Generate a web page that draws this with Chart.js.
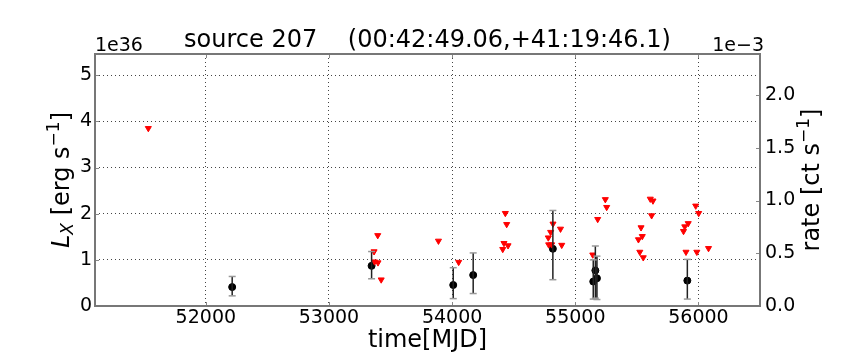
<!DOCTYPE html>
<html>
<head>
<meta charset="utf-8">
<script src="https://cdn.jsdelivr.net/npm/chart.js@4.4.1/dist/chart.umd.min.js"></script>
<style>
  html, body { margin: 0; padding: 0; background: #fff; }
  #wrap { width: 864px; height: 360px; }
</style>
</head>
<body>
<div id="wrap"><canvas id="lc" width="864" height="360"></canvas></div>
<script>
// detections: MJD, L_X (1e36 erg/s) and error bar ends
const detMjd = [52214, 53346, 54009, 54171, 54818, 55146, 55163, 55176, 55910];
const detLum = [0.41, 0.87, 0.455, 0.67, 1.24, 0.53, 0.77, 0.60, 0.55];
const detLo  = [0.22, 0.59, 0.16, 0.27, 0.57, 0.15, 0.17, 0.14, 0.15];
const detHi  = [0.64, 1.18, 0.83, 1.15, 2.07, 1.00, 1.30, 1.08, 1.01];

// upper limits (red triangles)
const ulMjd = [51533, 53396, 53366, 53370, 53398, 53424, 53889, 54053,
               54432, 54443, 54421, 54411, 54454,
               54819, 54800, 54781, 54784, 54808, 54880, 54890,
               55142, 55182, 55244, 55255,
               55513, 55534, 55544, 55524, 55552, 55609, 55631, 55620,
               55879, 55889, 55917, 55899, 55978, 56002, 55987, 56082];
const ulLum = [3.85, 1.53, 1.18, 0.96, 0.94, 0.57, 1.41, 0.95,
               2.01, 1.77, 1.36, 1.23, 1.31,
               1.78, 1.60, 1.48, 1.33, 1.33, 1.67, 1.32,
               1.11, 1.88, 2.31, 2.14,
               1.44, 1.70, 1.51, 1.17, 1.05, 2.32, 2.28, 1.96,
               1.62, 1.72, 1.79, 1.17, 2.17, 2.01, 1.17, 1.25];

// axis ticks
const mjdTicks = [52000, 53000, 54000, 55000, 56000];
const lumTicks = [0, 1, 2, 3, 4, 5];
const rateTicks = [0, 0.5, 1.0, 1.5, 2.0];

const FONT = 'DejaVu Sans';

// error bars as line segments separated by gaps
const errData = [];
detMjd.forEach((m, i) => {
    errData.push({ x: m, y: detLo[i] });
    errData.push({ x: m, y: detHi[i] });
    errData.push({ x: m, y: null });
});

// draws a list of text runs (for sub/superscripts) centred at cx,cy
function drawRuns(ctx, runs, cx, cy, angle) {
    let total = 0;
    runs.forEach(r => { ctx.font = r.font; r.w = ctx.measureText(r.text).width; total += r.w; });
    ctx.save();
    ctx.translate(cx, cy);
    ctx.rotate(angle);
    ctx.textBaseline = 'alphabetic';
    ctx.textAlign = 'left';
    ctx.fillStyle = '#000';
    let x = -total / 2;
    runs.forEach(r => {
        ctx.font = r.font;
        ctx.fillText(r.text, x, r.dy || 0);
        x += r.w;
    });
    ctx.restore();
}

const decor = {
    id: 'decor',
    afterDraw(chart) {
        const ctx = chart.ctx;
        const a = chart.chartArea;
        const sx = chart.scales.x, sy = chart.scales.y, sr = chart.scales.y2;

        ctx.save();
        // inward tick marks
        ctx.strokeStyle = '#888';
        ctx.lineWidth = 1;
        ctx.beginPath();
        mjdTicks.forEach(v => {
            const p = Math.round(sx.getPixelForValue(v)) + 0.5;
            ctx.moveTo(p, a.bottom); ctx.lineTo(p, a.bottom - 4);
            ctx.moveTo(p, a.top); ctx.lineTo(p, a.top + 4);
        });
        lumTicks.forEach(v => {
            const p = Math.round(sy.getPixelForValue(v)) + 0.5;
            ctx.moveTo(a.left, p); ctx.lineTo(a.left + 4, p);
        });
        rateTicks.forEach(v => {
            const p = Math.round(sr.getPixelForValue(v)) + 0.5;
            ctx.moveTo(a.right, p); ctx.lineTo(a.right - 4, p);
        });
        ctx.stroke();

        // frame
        ctx.strokeStyle = '#777';
        ctx.lineWidth = 2;
        ctx.strokeRect(a.left, a.top, a.right - a.left, a.bottom - a.top);

        // title
        ctx.fillStyle = '#000';
        ctx.textBaseline = 'alphabetic';
        ctx.textAlign = 'center';
        ctx.font = '24px ' + FONT;
        ctx.fillText('source 207    (00:42:49.06,+41:19:46.1)', (a.left + a.right) / 2, 47);

        // x axis title
        ctx.fillText('time[MJD]', (a.left + a.right) / 2, 347);

        // offset texts
        ctx.font = '19px ' + FONT;
        ctx.textAlign = 'left';
        ctx.fillText('1e36', a.left, 51);
        ctx.textAlign = 'right';
        ctx.fillText('1e\u22123', a.right + 4, 51);
        ctx.restore();

        const big = '24px ' + FONT;
        const small = '17px ' + FONT;
        drawRuns(ctx, [
            { text: 'L', font: 'italic ' + big },
            { text: 'X', font: 'italic ' + small, dy: 4 },
            { text: ' [erg s', font: big },
            { text: '\u22121', font: small, dy: -10 },
            { text: ']', font: big }
        ], 69, (a.top + a.bottom) / 2, -Math.PI / 2);

        drawRuns(ctx, [
            { text: 'rate [ct s', font: big },
            { text: '\u22121', font: small, dy: -10 },
            { text: ']', font: big }
        ], 819, (a.top + a.bottom) / 2, -Math.PI / 2);
    }
};

const tickFont = { family: FONT, size: 19 };

new Chart(document.getElementById('lc').getContext('2d'), {
    type: 'scatter',
    data: {
        datasets: [
            {
                label: 'errors',
                type: 'line',
                data: errData,
                showLine: true,
                spanGaps: false,
                borderColor: '#222',
                borderWidth: 1.5,
                pointStyle: 'line',
                pointRadius: 3.5,
                pointBorderColor: '#999',
                pointBorderWidth: 1.5,
                yAxisID: 'y'
            },
            {
                label: 'upper limits',
                data: ulMjd.map((m, i) => ({ x: m, y: ulLum[i] })),
                pointStyle: 'triangle',
                rotation: 180,
                pointRadius: 3.5,
                backgroundColor: '#ff0000',
                borderColor: '#ff0000',
                borderWidth: 1,
                yAxisID: 'y'
            },
            {
                label: 'detections',
                data: detMjd.map((m, i) => ({ x: m, y: detLum[i] })),
                pointStyle: 'circle',
                pointRadius: 3.5,
                backgroundColor: '#000',
                borderColor: '#000',
                borderWidth: 1,
                yAxisID: 'y'
            }
        ]
    },
    options: {
        responsive: false,
        animation: false,
        devicePixelRatio: 1,
        layout: { padding: { top: 54, left: 0, right: 0, bottom: 0 } },
        plugins: {
            legend: { display: false },
            tooltip: { enabled: false },
            title: { display: false }
        },
        scales: {
            x: {
                type: 'linear',
                min: 51100,
                max: 56500,
                afterBuildTicks: s => { s.ticks = mjdTicks.map(v => ({ value: v })); },
                afterFit: s => { s.height = 54; },
                ticks: {
                    font: tickFont,
                    color: '#000',
                    padding: 1,
                    maxRotation: 0,
                    autoSkip: false,
                    callback: v => String(v)
                },
                grid: { color: '#444', lineWidth: 1, drawTicks: false },
                border: { display: false, dash: [1, 3] }
            },
            y: {
                type: 'linear',
                position: 'left',
                min: 0,
                max: 5.46,
                afterBuildTicks: s => { s.ticks = lumTicks.map(v => ({ value: v })); },
                afterFit: s => { s.width = 95; },
                ticks: {
                    font: tickFont,
                    color: '#000',
                    padding: 3,
                    callback: v => String(v)
                },
                grid: { color: '#444', lineWidth: 1, drawTicks: false },
                border: { display: false, dash: [1, 3] }
            },
            y2: {
                type: 'linear',
                position: 'right',
                display: true,
                min: 0,
                max: 2.39,
                afterBuildTicks: s => { s.ticks = rateTicks.map(v => ({ value: v })); },
                afterFit: s => { s.width = 104; },
                ticks: {
                    font: tickFont,
                    color: '#000',
                    padding: 5,
                    callback: v => v.toFixed(1)
                },
                grid: { drawOnChartArea: false, drawTicks: false },
                border: { display: false }
            }
        }
    },
    plugins: [decor]
});
</script>
</body>
</html>
